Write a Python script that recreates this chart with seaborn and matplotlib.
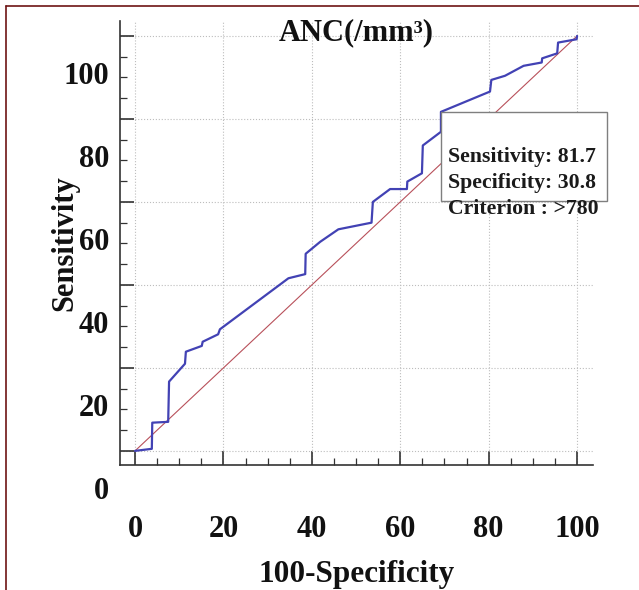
import matplotlib
matplotlib.use("Agg")
import matplotlib.pyplot as plt
import matplotlib.transforms as mtransforms
import pandas as pd
import seaborn as sns

# ROC curve points (100-Specificity, Sensitivity)
fpr = [0, 3.8, 3.9, 7.5, 7.7, 11.3, 11.5, 15.1, 15.3, 18.8, 19.2, 34.7, 38.5, 38.6,
       41.9, 46.0, 53.5, 53.8, 57.7, 61.5, 61.6, 64.9, 65.1, 69.2, 69.2, 80.3, 80.6,
       83.7, 87.9, 92.0, 92.1, 95.5, 95.7, 99.9, 100]
sens = [0, 0.5, 6.8, 7.0, 16.7, 21.0, 23.9, 25.3, 26.3, 28.1, 29.3, 41.6, 42.6, 47.5,
        50.4, 53.4, 55.0, 60.0, 63.1, 63.1, 64.9, 66.9, 73.6, 76.9, 81.7, 86.6, 89.4,
        90.4, 92.8, 93.6, 94.6, 95.8, 98.4, 99.2, 100]
diag = [0, 100]
ticks = [0, 20, 40, 60, 80, 100]
tick_labels = ["0", "20", "40", "60", "80", "100"]
box_lines = ["Sensitivity: 81.7", "Specificity: 30.8", "Criterion : >780"]

roc = pd.DataFrame({"fpr": fpr, "sens": sens})
ref = pd.DataFrame({"fpr": diag, "sens": diag})

sns.set_style("white")
plt.rcParams["font.family"] = ["Liberation Serif", "DejaVu Serif"]
plt.rcParams["font.weight"] = "bold"
plt.rcParams["text.color"] = "#111111"
plt.rcParams["axes.labelcolor"] = "#111111"
plt.rcParams["xtick.color"] = "#111111"
plt.rcParams["ytick.color"] = "#111111"

fig = plt.figure(figsize=(6.39, 5.90), dpi=100)
ax = fig.add_axes([120 / 639, 125 / 590, 473 / 639, 444 / 590])

# diagonal reference line and ROC curve
sns.lineplot(data=ref, x="fpr", y="sens", ax=ax, color="#b8505a", lw=0.8,
             sort=False, estimator=None)
sns.lineplot(data=roc, x="fpr", y="sens", ax=ax, color="#4242b4", lw=1.6,
             sort=False, estimator=None)

ax.set_xlim(-3.4, 103.6)
ax.set_ylim(-3.4, 103.6)
ax.set_xticks(ticks)
ax.set_xticklabels(tick_labels)
ax.set_yticks(ticks)
ax.set_yticklabels(tick_labels)
ax.set_xticks(range(0, 101, 5), minor=True)
ax.set_yticks(range(0, 101, 5), minor=True)
ax.tick_params(which="both", bottom=True, left=True, direction="in", color="#333333")
ax.tick_params(which="major", length=10, width=1.2, labelsize=22)
ax.tick_params(which="minor", length=5, width=0.9)
ax.tick_params(axis="x", which="major", pad=36)
ax.tick_params(axis="y", which="major", pad=8)
ax.grid(True, which="major", color="#bdbdbd", ls=":", lw=0.8)

for side in ["top", "right"]:
    ax.spines[side].set_visible(False)
for side in ["left", "bottom"]:
    ax.spines[side].set_color("#333333")
    ax.spines[side].set_linewidth(1.2)

# the y labels sit half a step lower than their ticks in the original
shift = mtransforms.ScaledTranslation(0, -0.37, fig.dpi_scale_trans)
for lab in ax.get_yticklabels():
    lab.set_transform(lab.get_transform() + shift)

ax.set_xlabel("100-Specificity", fontsize=22.5, fontweight="bold")
ax.set_ylabel("Sensitivity", fontsize=22, fontweight="bold")
ax.xaxis.set_label_coords(0.5, -0.215)
ax.yaxis.set_label_coords(-0.085, 0.5)
ax.set_title("ANC(/mm³)", fontsize=22, fontweight="bold", y=0.973, va="center", pad=0)

# criterion box
rect = plt.Rectangle((441 / 639, 1 - 201 / 590), 166 / 639, 89 / 590,
                     transform=fig.transFigure, facecolor="white", edgecolor="#7f7f7f",
                     lw=1.0, zorder=5, clip_on=False)
ax.add_patch(rect)
for i, line in enumerate(box_lines):
    fig.text(448 / 639, 1 - (157 + 26 * i) / 590, line, fontsize=15.7, fontweight="bold",
             va="center", ha="left", color="#1a1a1a", zorder=6)

# maroon frame edges
fig.add_artist(plt.Line2D([6 / 639, 1], [1 - 6 / 590, 1 - 6 / 590],
                          transform=fig.transFigure, color="#6e1414", lw=1.2))
fig.add_artist(plt.Line2D([6 / 639, 6 / 639], [0, 1 - 6 / 590],
                          transform=fig.transFigure, color="#6e1414", lw=1.2))

fig.savefig("out.png", dpi=100)
